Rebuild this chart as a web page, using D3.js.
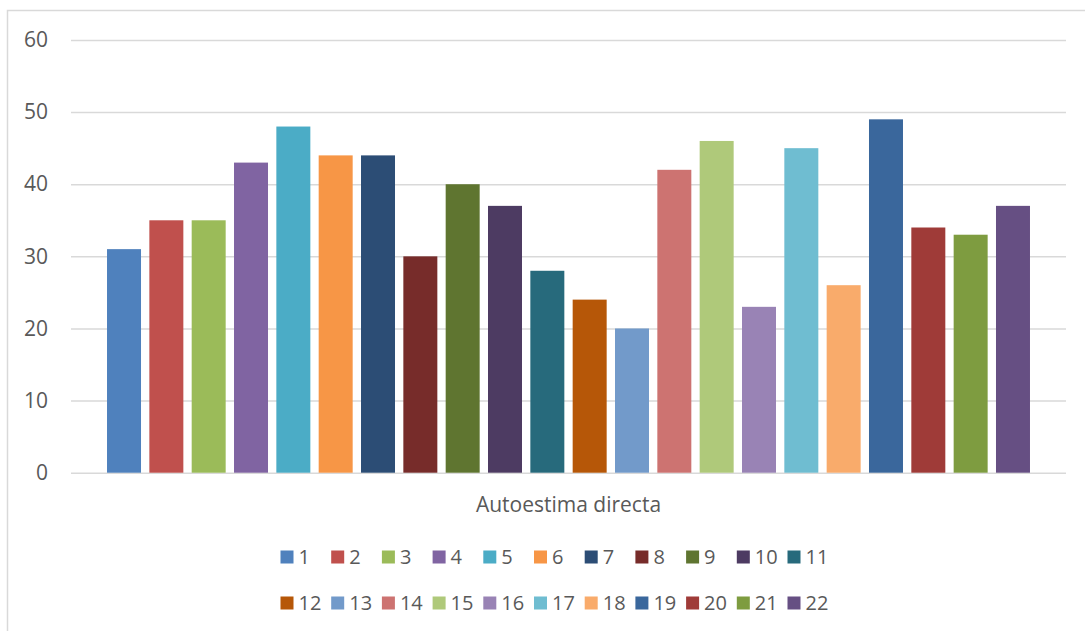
<!DOCTYPE html>
<html>
<head>
<meta charset="utf-8">
<script src="https://cdn.jsdelivr.net/npm/d3@7"></script>
<style>
  html, body { margin: 0; padding: 0; background: #fff; }
  svg { display: block; }
  text { font-family: "Open Sans", "Liberation Sans", sans-serif; fill: #595959; }
</style>
</head>
<body>
<svg id="chart" width="1085" height="631"></svg>
<script>
// Single category, one bar per participant
const categories = ["Autoestima directa"];
const seriesNames = ["1","2","3","4","5","6","7","8","9","10","11",
                     "12","13","14","15","16","17","18","19","20","21","22"];
const seriesValues = [31, 35, 35, 43, 48, 44, 44, 30, 40, 37, 28,
                      24, 20, 42, 46, 23, 45, 26, 49, 34, 33, 37];
const seriesColors = ["#4F81BD","#C0504D","#9BBB59","#8064A2","#4BACC6","#F79646",
                      "#2C4D75","#772C2A","#5F7530","#4D3B62","#276A7C","#B65708",
                      "#729ACA","#CD7371","#AFC97A","#9983B5","#6FBDD1","#F9AB6B",
                      "#3A679C","#9F3B38","#7E9C40","#664F83"];
const yTicks = [0, 10, 20, 30, 40, 50, 60];

const svg = d3.select("#chart");
const W = 1085, H = 631;
const plot = { left: 71, right: 1066, top: 40, bottom: 472.7 };

// Chart area frame
svg.append("rect")
  .attr("x", 7.5).attr("y", 10.5)
  .attr("width", W + 10).attr("height", H + 10)
  .attr("fill", "#fff")
  .attr("stroke", "#d9d9d9").attr("stroke-width", 1.5);

const y = d3.scaleLinear().domain([0, 60]).range([plot.bottom, plot.top]);

const x0 = d3.scaleBand().domain(categories)
  .range([plot.left, plot.right]).paddingInner(0).paddingOuter(0.0342);
const x1 = d3.scaleBand().domain(seriesNames)
  .range([0, x0.bandwidth()]).paddingInner(0.197).paddingOuter(0.0985);

// Gridlines and value labels
const yAxis = d3.axisLeft(y).tickValues(yTicks).tickSize(-(plot.right - plot.left)).tickPadding(23);
const gy = svg.append("g").attr("transform", `translate(${plot.left},0)`).call(yAxis);
gy.attr("font-size", null).attr("font-family", null);
gy.select(".domain").remove();
gy.selectAll(".tick line").attr("stroke", "#d9d9d9").attr("stroke-width", 1.5);
gy.selectAll(".tick text")
  .style("font-size", "21px")
  .style("fill", "#595959")
  .style("font-family", "'Open Sans', 'Liberation Sans', sans-serif");

// Bars
const data = seriesNames.map((s, i) => ({ name: s, value: seriesValues[i], color: seriesColors[i] }));
svg.append("g").selectAll("rect")
  .data(data).join("rect")
  .attr("x", d => x0(categories[0]) + x1(d.name))
  .attr("width", x1.bandwidth())
  .attr("y", d => y(d.value))
  .attr("height", d => y(0) - y(d.value))
  .attr("fill", d => d.color);

// Category axis label
svg.append("text")
  .attr("x", x0(categories[0]) + x0.bandwidth() / 2)
  .attr("y", 512)
  .attr("text-anchor", "middle")
  .style("font-size", "21px")
  .text(categories[0]);

// Legend: two rows of eleven entries
const legendCols = 11, colStep = 50.7, legendX = 280.5, rowY = [557, 603];
const lg = svg.append("g").selectAll("g")
  .data(data).join("g")
  .attr("transform", (d, i) => `translate(${legendX + (i % legendCols) * colStep},${rowY[Math.floor(i / legendCols)]})`);
lg.append("rect").attr("x", 0).attr("y", -6.5).attr("width", 13).attr("height", 13)
  .attr("fill", d => d.color);
lg.append("text").attr("x", 18).attr("y", 0).attr("dy", "0.35em")
  .style("font-size", "20px").text(d => d.name);
</script>
</body>
</html>
